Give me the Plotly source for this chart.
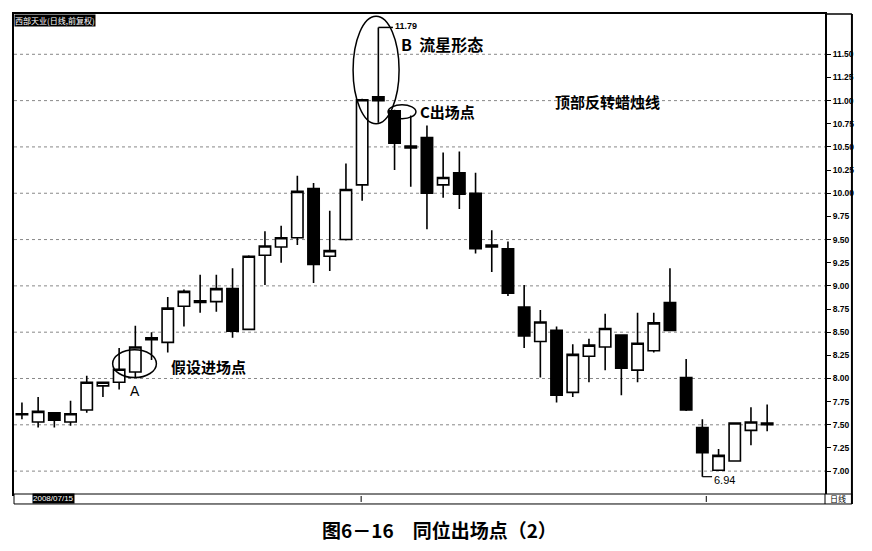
import plotly.graph_objects as go

# ---- data ----
opens  = [7.62, 7.53, 7.63, 7.53, 7.66, 7.92, 7.96, 8.07, 8.44, 8.39,
          8.78, 8.84, 8.83, 8.97, 8.53, 9.33, 9.42, 9.52, 10.05, 9.32,
          9.50, 10.09, 11.04, 10.89, 10.51, 10.60, 10.09, 10.22, 10.00, 9.44,
          9.40, 8.77, 8.40, 8.52, 7.85, 8.24, 8.34, 8.47, 8.09, 8.30,
          8.82, 8.01, 7.47, 7.01, 7.11, 7.44, 7.52]
highs  = [7.74, 7.80, 7.63, 7.76, 8.03, 7.96, 8.33, 8.57, 8.50, 8.88,
          8.96, 9.12, 9.12, 9.19, 9.33, 9.59, 9.65, 10.19, 10.11, 9.81,
          10.32, 11.02, 11.79, 10.90, 10.84, 10.73, 10.44, 10.45, 10.22, 9.60,
          9.48, 9.01, 8.74, 8.56, 8.37, 8.43, 8.70, 8.47, 8.71, 8.71,
          9.19, 8.21, 7.56, 7.24, 7.52, 7.69, 7.72]
lows   = [7.56, 7.47, 7.47, 7.49, 7.63, 7.80, 7.88, 8.01, 8.20, 8.28,
          8.56, 8.71, 8.72, 8.44, 8.52, 9.01, 9.25, 9.44, 9.03, 9.16,
          9.49, 9.92, 10.76, 10.25, 10.07, 9.61, 9.95, 9.83, 9.35, 9.15,
          8.89, 8.33, 8.01, 7.74, 7.80, 7.96, 8.09, 7.82, 7.96, 8.28,
          8.51, 7.65, 6.94, 7.00, 7.10, 7.28, 7.43]
closes = [7.61, 7.645, 7.55, 7.62, 7.96, 7.96, 8.10, 8.34, 8.42, 8.76,
          8.94, 8.82, 8.97, 8.51, 9.32, 9.43, 9.52, 10.02, 9.23, 9.38,
          10.04, 11.01, 11.00, 10.54, 10.49, 10.00, 10.17, 9.99, 9.40, 9.42,
          8.92, 8.46, 8.61, 7.82, 8.26, 8.36, 8.54, 8.11, 8.38, 8.60,
          8.52, 7.66, 7.20, 7.17, 7.52, 7.53, 7.50]
x_idx = list(range(len(opens)))

tick_vals = [7.00, 7.25, 7.50, 7.75, 8.00, 8.25, 8.50, 8.75, 9.00, 9.25,
             9.50, 9.75, 10.00, 10.25, 10.50, 10.75, 11.00, 11.25, 11.50]
grid_levels = [7.0, 7.5, 8.0, 8.5, 9.0, 9.5, 10.0, 10.5, 11.0, 11.5]

high_idx = 22   # 11.79 shooting star (B)
low_idx = 42    # 6.94 low
entry_idx = 7   # A

# ---- layout geometry (screen pixels; page body has an 8px margin) ----
OFF = 8
FIGW, FIGH = 856, 535
L, R, T, B = 12, 825, 13, 494      # plot area in screen px
PW, PH = R - L, B - T

def px(xp):
    return (xp - L) / PW

def py(yp):
    return (B - yp) / PH

fig = go.Figure()
fig.add_trace(go.Candlestick(
    x=x_idx, open=opens, high=highs, low=lows, close=closes,
    increasing=dict(line=dict(color="black", width=1.6), fillcolor="white"),
    decreasing=dict(line=dict(color="black", width=1.6), fillcolor="black"),
    whiskerwidth=0, showlegend=False, hoverinfo="skip",
))

shapes = []
for g in grid_levels:
    shapes.append(dict(type="line", xref="paper", yref="y", x0=0, x1=1, y0=g, y1=g,
                       line=dict(color="#888888", width=1, dash="dot"), layer="below"))

# ellipses
shapes.append(dict(type="circle", xref="x", yref="y", x0=5.6, x1=8.3, y0=8.01, y1=8.31,
                   line=dict(color="black", width=1.5)))
shapes.append(dict(type="circle", xref="x", yref="y", x0=20.44, x1=23.28, y0=10.75, y1=11.91,
                   line=dict(color="black", width=1.5)))
shapes.append(dict(type="circle", xref="x", yref="y", x0=22.6, x1=24.32, y0=10.805, y1=10.955,
                   line=dict(color="black", width=1.5)))
# max / min markers
shapes.append(dict(type="line", xref="x", yref="y", x0=high_idx, x1=high_idx + 0.9,
                   y0=highs[high_idx], y1=highs[high_idx], line=dict(color="black", width=1.5)))
shapes.append(dict(type="line", xref="x", yref="y", x0=low_idx, x1=low_idx + 0.6,
                   y0=lows[low_idx], y1=lows[low_idx], line=dict(color="black", width=1.2)))

# bottom bar & right frame
shapes.append(dict(type="rect", xref="paper", yref="paper", x0=0, x1=px(852), y0=py(504), y1=0,
                   line=dict(color="black", width=1), fillcolor="white"))
shapes.append(dict(type="line", xref="paper", yref="paper", x0=px(852), x1=px(852), y0=py(504), y1=1,
                   line=dict(color="black", width=2)))
shapes.append(dict(type="line", xref="paper", yref="paper", x0=1, x1=px(852), y0=1, y1=1,
                   line=dict(color="black", width=1.5)))
shapes.append(dict(type="line", xref="paper", yref="paper", x0=px(825), x1=px(825), y0=py(504), y1=0,
                   line=dict(color="black", width=1)))
for mx in (360, 706):
    shapes.append(dict(type="line", xref="paper", yref="paper", x0=px(mx), x1=px(mx), y0=py(502), y1=py(496),
                       line=dict(color="black", width=1)))

cjk = "Noto Sans CJK SC"
annotations = [
    dict(x=high_idx + 0.9, y=highs[high_idx] + 0.02, xref="x", yref="y", text="11.79",
         showarrow=False, xanchor="left", yanchor="middle",
         font=dict(family="Liberation Sans", size=9, color="black", weight="bold")),
    dict(x=low_idx + 0.6, y=lows[low_idx] - 0.04, xref="x", yref="y", text="6.94",
         showarrow=False, xanchor="left", yanchor="middle",
         font=dict(family="Liberation Sans", size=11, color="black")),
    dict(x=23.25, y=11.61, xref="x", yref="y", text="B  流星形态", showarrow=False,
         xanchor="left", yanchor="middle", font=dict(family=cjk, size=16, color="black", weight="bold")),
    dict(x=24.45, y=10.88, xref="x", yref="y", text="C出场点", showarrow=False,
         xanchor="left", yanchor="middle", font=dict(family=cjk, size=15, color="black", weight="bold")),
    dict(x=32.8, y=10.99, xref="x", yref="y", text="顶部反转蜡烛线", showarrow=False,
         xanchor="left", yanchor="middle", font=dict(family=cjk, size=15, color="black", weight="bold")),
    dict(x=9.1, y=8.13, xref="x", yref="y", text="假设进场点", showarrow=False,
         xanchor="left", yanchor="middle", font=dict(family=cjk, size=15, color="black", weight="bold")),
    dict(x=entry_idx, y=7.86, xref="x", yref="y", text="A", showarrow=False,
         xanchor="center", yanchor="middle", font=dict(family="Liberation Sans", size=14, color="black")),
    dict(x=0, y=1, xref="paper", yref="paper", text="西部天业(日线,前复权)", showarrow=False,
         xanchor="left", yanchor="top", bgcolor="black", borderpad=0,
         font=dict(family=cjk, size=8, color="white")),
    dict(x=px(30), y=py(499), xref="paper", yref="paper", text="2008/07/15", showarrow=False,
         xanchor="left", yanchor="middle", bgcolor="black", borderpad=0,
         font=dict(family="Liberation Sans", size=8, color="white")),
    dict(x=px(838), y=py(499), xref="paper", yref="paper", text="日线", showarrow=False,
         xanchor="center", yanchor="middle", font=dict(family=cjk, size=8, color="black")),
    dict(x=px(439), y=py(530), xref="paper", yref="paper", text="图6－16　同位出场点（2）",
         showarrow=False, xanchor="center", yanchor="middle",
         font=dict(family=cjk, size=19, color="black", weight="bold")),
]

fig.update_layout(
    width=FIGW, height=FIGH,
    margin=dict(l=L - OFF, r=FIGW - (R - OFF), t=T - OFF, b=FIGH - (B - OFF), pad=0),
    paper_bgcolor="white", plot_bgcolor="white",
    boxgap=0.0,
    shapes=shapes, annotations=annotations,
    xaxis=dict(range=[-0.49, 49.57], showgrid=False, zeroline=False, showticklabels=False,
               ticks="", showline=True, linecolor="black", linewidth=1.5, mirror=True,
               rangeslider=dict(visible=False), fixedrange=True),
    yaxis=dict(range=[6.753, 11.935], side="right", tickvals=tick_vals, tickformat=".2f",
               showgrid=False, zeroline=False, ticks="outside", ticklen=4, tickcolor="black",
               showline=True, linecolor="black", linewidth=2, mirror=True,
               tickfont=dict(family="Liberation Sans", size=8.5, color="black", weight="bold"),
               fixedrange=True),
)

fig.write_html("out.html")
